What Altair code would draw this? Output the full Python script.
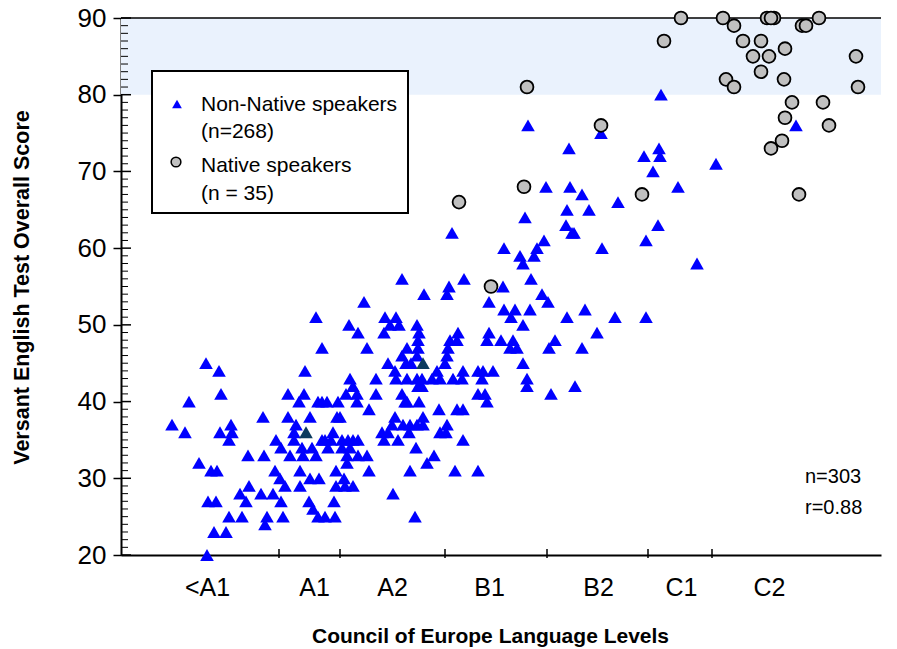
import altair as alt
import pandas as pd

# Horizontal position of each test taker inside the level bands (jittered, 0-76 plot units)
# and the Versant English overall score.
nonnative_x = [
    5.1, 6.4, 6.8, 7.8, 8.5, 9.8, 10.0, 9.0, 9.6, 9.9, 11.0, 11.1, 10.8, 8.7, 9.5, 9.3, 10.5, 8.6,
    10.8, 12.1, 11.9, 12.5, 12.8, 12.7, 14.2, 14.3, 14.0, 14.6, 14.4, 15.2, 15.4, 15.5, 16.0, 15.9,
    16.0, 16.2, 16.4, 16.7, 16.7, 16.9, 17.5, 17.3, 17.3, 17.8, 17.9, 17.9, 18.4, 18.3, 18.1, 18.2,
    18.9, 19.1, 19.5, 18.9, 19.8, 18.8, 19.2, 19.7, 20.4, 21.3, 21.4, 19.5, 20.1, 19.7, 20.1, 20.6,
    20.1, 20.4, 20.7, 21.2, 21.0, 21.6, 21.9, 21.7, 21.5, 22.3, 21.5, 22.4, 23.2, 22.1, 22.7, 23.2,
    23.7, 22.1, 22.9, 22.6, 22.6, 23.7, 24.6, 22.5, 22.8, 22.9, 23.2, 23.6, 23.6, 23.7, 24.3, 24.6,
    24.8, 24.8, 25.5, 25.5, 26.1, 26.7, 26.3, 26.4, 27.5, 26.9, 27.8, 26.3, 26.7, 27.1, 27.4, 27.2,
    27.4, 27.5, 27.7, 28.1, 28.1, 28.1, 28.4, 28.6, 28.2, 28.9, 29.6, 30.2, 30.2, 28.5, 29.0, 28.6,
    28.6, 28.8, 28.9, 29.5, 29.4, 29.6, 29.8, 29.7, 29.7, 29.6, 29.6, 29.7, 29.8,
    33.1, 38.3, 42.3, 41.6, 41.3, 39.9, 40.2, 34.3, 32.8, 32.6, 30.3, 38.2, 41.0, 42.1, 42.7, 36.8,
    38.3, 39.4, 39.0, 40.9, 40.2, 36.8, 36.6, 38.0, 39.2, 38.9, 39.6, 43.4, 42.8, 33.7, 33.6, 32.9,
    32.7, 32.6, 32.4, 40.2, 30.1, 30.1, 31.1, 31.9, 31.6, 33.2, 34.1, 34.2, 35.7, 36.1, 36.2, 37.2,
    40.6, 40.6, 35.7, 36.4, 36.6, 43.0, 31.8, 33.6, 34.2, 31.9, 32.5, 32.6, 34.2, 31.3, 30.6, 33.4,
    35.7, 46.4, 44.6, 47.6, 46.1, 45.4, 40.4,
    54.0, 48.0, 44.8, 53.8, 52.3, 53.9, 53.2, 59.5, 42.5, 44.9, 46.1, 55.7, 49.7, 44.6, 46.8, 53.7,
    44.5, 45.1, 45.3, 52.5, 48.1, 57.6, 49.4, 52.5, 40.7, 67.5, 60.8,
]
nonnative_y = [
    37, 36, 40, 32, 45, 44, 41, 31, 31, 36, 37, 36, 35, 27, 27, 23, 23, 20,
    25, 25, 28, 27, 29, 33, 38, 33, 28, 25, 24, 28, 31, 35, 34, 30,
    27, 25, 29, 41, 38, 33, 37, 36, 35, 40, 31, 29, 44, 41, 34, 33,
    38, 34, 33, 30, 30, 27, 26, 25, 25, 27, 25, 51, 47, 40, 40, 40,
    35, 35, 34, 36, 35, 38, 38, 40, 31, 30, 29, 29, 29, 35, 35, 35,
    35, 34, 34, 33, 32, 33, 33, 41, 50, 43, 42, 41, 40, 49, 53, 47,
    39, 31, 43, 41, 36, 36, 35, 51, 51, 50, 50, 49, 45, 37, 38, 28,
    44, 43, 35, 56, 46, 41, 40, 40, 37, 37, 37, 37, 38, 45, 45, 47,
    43, 36, 31, 34, 25, 50, 49, 48, 47, 46, 43, 42, 40,
    62, 60, 61, 60, 59, 59, 58, 56, 55, 54, 54, 55, 56, 54, 53, 53,
    52, 52, 51, 52, 50, 49, 48, 48, 48, 47, 47, 48, 47, 49, 48, 48,
    47, 46, 45, 45, 43, 42, 43, 43, 44, 43, 43, 44, 44, 43, 44, 44,
    43, 42, 41, 41, 40, 41, 39, 39, 39, 36, 36, 37, 35, 33, 32, 31,
    31, 52, 51, 49, 47, 42, 64,
    80, 75, 73, 73, 72, 72, 70, 71, 68, 68, 67, 68, 66, 65, 65, 63,
    63, 62, 62, 61, 60, 58, 51, 51, 76, 76, 82,
]

# Non-native points where several test takers coincide
stacked_x = [18.5, 30.2]
stacked_y = [36, 45]

native_x = [
    56.0, 60.2, 61.3, 64.6, 65.3, 68.1, 68.5, 69.8, 54.3, 62.2, 64.0, 66.4, 63.2, 64.8, 73.5, 64.0,
    60.5, 61.3, 66.3, 73.7, 67.1, 70.2, 66.4, 70.8, 66.1, 65.0, 52.1, 67.8, 40.6, 48.0, 40.3, 33.8,
    37.0, 65.0,
]
native_y = [
    90, 90, 89, 90, 90, 89, 89, 90, 87, 87, 87, 86, 85, 85, 85, 83,
    82, 81, 82, 81, 79, 79, 77, 76, 74, 73, 67, 67, 81, 76, 68, 66,
    55, 90,
]

level_names = ["<A1", "A1", "A2", "B1", "B2", "C1", "C2"]
level_centres = [8.6, 19.3, 27.1, 36.8, 47.7, 56.0, 64.8]
level_bounds = [15.8, 21.9, 32.4, 42.6, 52.7, 59.1]

score_ticks = [20, 30, 40, 50, 60, 70, 80, 90]
score_minor = [v for v in range(20, 91) if v % 10]
target_band = (80, 90)

W, H = 760, 537
FONT = "Liberation Sans"

# label expression: each centre falls between two band boundaries
expr = f"'{level_names[-1]}'"
for name, bound in reversed(list(zip(level_names[:-1], level_bounds))):
    expr = f"datum.value < {bound} ? '{name}' : ({expr})"

xscale = alt.Scale(domain=[0, 76], nice=False, zero=False)
yscale = alt.Scale(domain=[20, 90], nice=False, zero=False)

xaxis = alt.Axis(
    values=level_centres, labelExpr=expr, ticks=False, grid=False,
    domainColor="black", domainWidth=2, labelFontSize=25, labelColor="black",
    labelPadding=40, labelBaseline="alphabetic", labelFlush=False,
    title="Council of Europe Language Levels", titleFontSize=21, titleFontWeight="bold",
    titleColor="black", titleX=369, titleY=81, titleBaseline="middle", titleAnchor="middle",
)
yaxis = alt.Axis(
    values=score_ticks, tickSize=8, tickWidth=1.5, tickColor="black", grid=False,
    domainColor="black", domainWidth=2, labelFontSize=26, labelColor="black",
    labelPadding=7, labelFlush=False,
    title="Versant English Test Overall Score", titleFontSize=21.5, titleFontWeight="bold",
    titleColor="black", titleX=-99, titleY=269, titleAngle=270, titleBaseline="middle",
    titleAlign="center",
)


def X(field):
    return alt.X(field, type="quantitative", scale=xscale, axis=xaxis)


def Y(field):
    return alt.Y(field, type="quantitative", scale=yscale, axis=yaxis)


one = pd.DataFrame({"k": [0]})

band = alt.Chart(pd.DataFrame({"lo": [target_band[0]], "hi": [target_band[1]]})).mark_rect(
    color="#EAF2FD"
).encode(y=Y("lo"), y2="hi", x=alt.value(0), x2=alt.value(W))

top_line = alt.Chart(pd.DataFrame({"v": [90]})).mark_rule(color="black", strokeWidth=1.5).encode(
    y=Y("v"), x=alt.value(0), x2=alt.value(W)
)

minor_ticks = alt.Chart(pd.DataFrame({"v": score_minor})).mark_rule(
    color="black", strokeWidth=1
).encode(y=Y("v"), x=alt.value(0), x2=alt.value(7))

major_ticks = alt.Chart(pd.DataFrame({"v": score_ticks})).mark_rule(
    color="black", strokeWidth=1.5
).encode(y=Y("v"), x=alt.value(0), x2=alt.value(10))

bound_ticks = alt.Chart(pd.DataFrame({"b": level_bounds})).mark_rule(
    color="black", strokeWidth=1.5
).encode(x=X("b"), y=alt.value(H - 6), y2=alt.value(H + 3))

tri = alt.Chart(pd.DataFrame({"x": nonnative_x, "y": nonnative_y})).mark_point(
    shape="triangle-up", filled=True, size=185, color="#0000FF", opacity=1
).encode(x=X("x"), y=Y("y"))

tri_dark = alt.Chart(pd.DataFrame({"x": stacked_x, "y": stacked_y})).mark_point(
    shape="triangle-up", filled=True, size=185, color="#0B3A5E", opacity=1
).encode(x=X("x"), y=Y("y"))

circ = alt.Chart(pd.DataFrame({"x": native_x, "y": native_y})).mark_point(
    shape="circle", filled=True, size=165, fill="#C0C0C0", stroke="black",
    strokeWidth=1.8, opacity=1
).encode(x=X("x"), y=Y("y"))

# key box
key_box = alt.Chart(one).mark_rect(fill="white", stroke="black", strokeWidth=2).encode(
    x=alt.value(31), x2=alt.value(287), y=alt.value(53), y2=alt.value(195)
)
key_tri = alt.Chart(one).mark_point(
    shape="triangle-up", filled=True, size=95, color="#0000FF", opacity=1
).encode(x=alt.value(56), y=alt.value(86))
key_circ = alt.Chart(one).mark_point(
    shape="circle", filled=True, size=95, fill="#C0C0C0", stroke="black",
    strokeWidth=1.5, opacity=1
).encode(x=alt.value(55), y=alt.value(144))

key_lines = [
    ("Non-Native speakers", 92.7), ("(n=268)", 120),
    ("Native speakers", 153.7), ("(n = 35)", 182),
]
key_text = [
    alt.Chart(one).mark_text(
        align="left", baseline="alphabetic", fontSize=21, font=FONT, color="black"
    ).encode(x=alt.value(80), y=alt.value(yy), text=alt.value(t))
    for t, yy in key_lines
]

stats = [
    alt.Chart(one).mark_text(
        align="left", baseline="alphabetic", fontSize=20, font=FONT, color="black"
    ).encode(x=alt.value(684), y=alt.value(yy), text=alt.value(t))
    for t, yy in [("n=303", 465), ("r=0.88", 496)]
]

chart = alt.layer(
    band, top_line, minor_ticks, major_ticks, bound_ticks, tri, tri_dark, circ,
    key_box, key_tri, key_circ, *key_text, *stats,
).properties(
    width=W, height=H,
    autosize=alt.AutoSizeParams(type="none"),
    padding={"left": 121, "top": 18, "right": 16, "bottom": 94},
).configure(
    font=FONT, background="white"
).configure_view(stroke=None)

chart.save("out.html", embed_options={"renderer": "svg", "actions": False})
